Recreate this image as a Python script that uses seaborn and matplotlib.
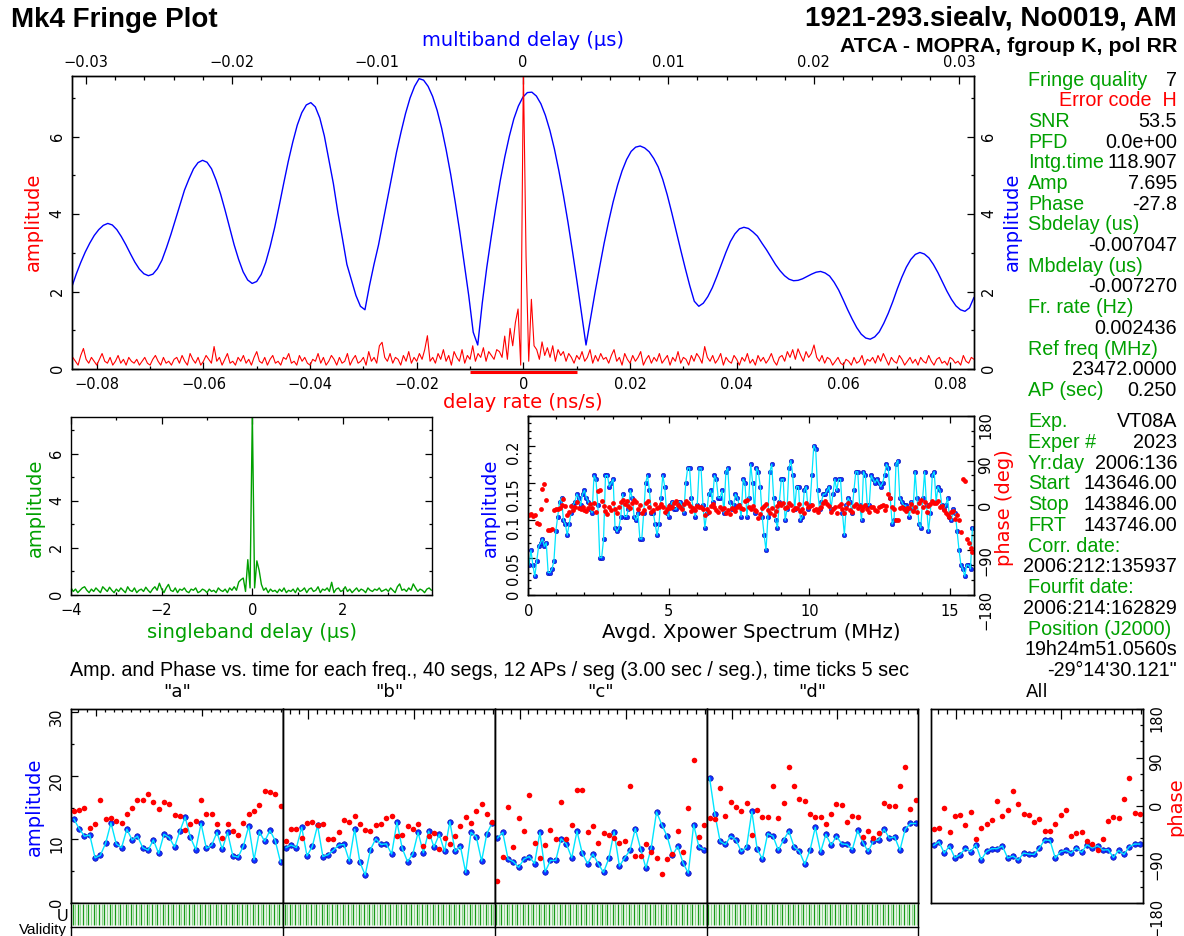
import numpy as np
import matplotlib
matplotlib.use("Agg")
import matplotlib.pyplot as plt
from matplotlib.ticker import MultipleLocator, FixedLocator, FuncFormatter
import seaborn as sns

W, H = 1184, 937

## header text
title_left = "Mk4 Fringe Plot"
title_right = "1921-293.siealv, No0019, AM"
title_base = "ATCA - MOPRA, fgroup K, pol RR"
seg_title = ("Amp. and Phase vs. time for each freq., 40 segs, 12 APs / seg "
             "(3.00 sec / seg.), time ticks 5 sec")

## fringe summary (label, value)
info_top = [("Fringe quality", "7"), ("", ""), ("SNR", "53.5"), ("PFD", "0.0e+00"),
            ("Intg.time", "118.907"), ("Amp", "7.695"), ("Phase", "-27.8"),
            ("Sbdelay (us)", ""), ("", "-0.007047"), ("Mbdelay (us)", ""), ("", "-0.007270"),
            ("Fr. rate (Hz)", ""), ("", "0.002436"), ("Ref freq (MHz)", ""), ("", "23472.0000"),
            ("AP (sec)", "0.250")]
error_code = "Error code  H"
info_bot = [("Exp.", "VT08A"), ("Exper #", "2023"), ("Yr:day", "2006:136"),
            ("Start", "143646.00"), ("Stop", "143846.00"), ("FRT", "143746.00"),
            ("Corr. date:", ""), ("", "2006:212:135937"), ("Fourfit date:", ""),
            ("", "2006:214:162829"), ("Position (J2000)", ""), ("", "19h24m51.0560s"),
            ("", "-29\u00b014'30.121\"")]

## multiband delay amplitude (top axis, us)
mbd_amp = [
    2.11, 2.45, 2.75, 3.02, 3.25, 3.45, 3.60, 3.71, 3.76, 3.72, 3.60, 3.42, 3.21, 2.98, 2.76, 2.58, 2.46, 2.41, 2.45, 2.59,
    2.81, 3.13, 3.48, 3.86, 4.24, 4.62, 4.91, 5.17, 5.33, 5.39, 5.34, 5.17, 4.88, 4.52, 4.10, 3.66, 3.21, 2.83, 2.51, 2.30,
    2.21, 2.26, 2.44, 2.75, 3.17, 3.66, 4.22, 4.80, 5.36, 5.86, 6.30, 6.62, 6.82, 6.88, 6.77, 6.48, 6.02, 5.41, 4.79, 4.04,
    3.38, 2.70, 2.30, 1.90, 1.62, 1.53, 2.15, 2.70, 3.20, 3.80, 4.40, 5.00, 5.60, 6.12, 6.60, 7.00, 7.30, 7.50, 7.46, 7.30,
    7.04, 6.68, 6.22, 5.66, 5.03, 4.32, 3.56, 2.74, 1.90, 0.95, 0.62, 1.70, 2.62, 3.42, 4.17, 4.87, 5.48, 6.01, 6.46, 6.79,
    7.02, 7.14, 7.15, 7.05, 6.85, 6.55, 6.16, 5.68, 5.11, 4.48, 3.79, 3.04, 2.26, 1.44, 0.62, 1.30, 1.98, 2.62, 3.24, 3.80,
    4.31, 4.75, 5.12, 5.41, 5.62, 5.73, 5.76, 5.71, 5.61, 5.44, 5.22, 4.90, 4.50, 4.04, 3.55, 3.07, 2.60, 2.15, 1.75, 1.62,
    1.70, 1.87, 2.10, 2.39, 2.70, 3.01, 3.29, 3.49, 3.62, 3.66, 3.63, 3.54, 3.43, 3.25, 3.08, 2.89, 2.70, 2.54, 2.41, 2.32,
    2.28, 2.29, 2.33, 2.39, 2.45, 2.50, 2.52, 2.48, 2.40, 2.24, 2.04, 1.79, 1.53, 1.29, 1.07, 0.90, 0.80, 0.77, 0.83, 0.96,
    1.18, 1.44, 1.74, 2.07, 2.37, 2.63, 2.83, 2.96, 3.01, 2.97, 2.87, 2.70, 2.49, 2.25, 2.01, 1.80, 1.63, 1.53, 1.49, 1.58,
    1.85]
mbd_range = (-0.0310, 0.0310)

## delay rate amplitude (bottom axis, ns/s)
rate_amp = [
    0.30, 0.20, 0.10, 0.35, 0.53, 0.25, 0.15, 0.30, 0.20, 0.10, 0.25, 0.40, 0.20, 0.15, 0.30, 0.10, 0.20, 0.35, 0.15, 0.25,
    0.10, 0.30, 0.20, 0.15, 0.25, 0.10, 0.20, 0.30, 0.15, 0.10, 0.25, 0.35, 0.20, 0.10, 0.30, 0.15, 0.20, 0.10, 0.25, 0.30,
    0.15, 0.35, 0.20, 0.10, 0.40, 0.25, 0.15, 0.30, 0.10, 0.20, 0.35, 0.25, 0.15, 0.58, 0.20, 0.30, 0.10, 0.25, 0.40, 0.15,
    0.20, 0.10, 0.30, 0.20, 0.35, 0.15, 0.25, 0.10, 0.30, 0.45, 0.20, 0.15, 0.30, 0.10, 0.25, 0.35, 0.15, 0.20, 0.10, 0.30,
    0.25, 0.40, 0.15, 0.20, 0.10, 0.35, 0.20, 0.30, 0.15, 0.10, 0.25, 0.20, 0.40, 0.15, 0.30, 0.10, 0.20, 0.35, 0.25, 0.10,
    0.30, 0.15, 0.20, 0.40, 0.10, 0.25, 0.35, 0.15, 0.20, 0.30, 0.10, 0.45, 0.20, 0.30, 0.15, 0.60, 0.69, 0.30, 0.20, 0.40,
    0.15, 0.30, 0.25, 0.10, 0.35, 0.20, 0.45, 0.15, 0.30, 0.20, 0.40, 0.25, 0.50, 0.86, 0.20, 0.30, 0.15, 0.40, 0.25, 0.50,
    0.20, 0.35, 0.10, 0.45, 0.30, 0.20, 0.50, 0.15, 0.35, 0.25, 0.60, 0.20, 0.40, 0.30, 0.55, 0.20, 0.45, 0.35, 0.25, 0.50,
    0.45, 0.30, 0.85, 0.25, 1.05, 0.60, 1.20, 1.55, 0.10, 7.70, 2.90, 0.20, 1.80, 0.60, 0.50, 0.25, 0.70, 0.35, 0.55, 0.30,
    0.60, 0.20, 0.50, 0.35, 0.45, 0.20, 0.40, 0.30, 0.15, 0.35, 0.25, 0.45, 0.20, 0.30, 0.50, 0.15, 0.35, 0.20, 0.40, 0.25,
    0.30, 0.15, 0.35, 0.50, 0.20, 0.30, 0.10, 0.40, 0.25, 0.15, 0.35, 0.20, 0.30, 0.45, 0.10, 0.25, 0.35, 0.15, 0.30, 0.20,
    0.40, 0.15, 0.25, 0.35, 0.10, 0.30, 0.20, 0.45, 0.15, 0.30, 0.25, 0.10, 0.35, 0.20, 0.40, 0.30, 0.15, 0.58, 0.30, 0.20,
    0.35, 0.15, 0.25, 0.40, 0.10, 0.30, 0.20, 0.15, 0.35, 0.25, 0.10, 0.30, 0.20, 0.40, 0.15, 0.25, 0.10, 0.35, 0.20, 0.30,
    0.15, 0.25, 0.40, 0.20, 0.10, 0.30, 0.35, 0.20, 0.45, 0.30, 0.50, 0.25, 0.52, 0.35, 0.20, 0.45, 0.30, 0.40, 0.62, 0.30,
    0.20, 0.35, 0.15, 0.30, 0.25, 0.10, 0.20, 0.30, 0.15, 0.10, 0.25, 0.20, 0.10, 0.30, 0.15, 0.20, 0.35, 0.10, 0.25, 0.20,
    0.30, 0.15, 0.35, 0.20, 0.40, 0.25, 0.10, 0.30, 0.20, 0.15, 0.35, 0.25, 0.10, 0.20, 0.30, 0.15, 0.25, 0.10, 0.30, 0.20,
    0.15, 0.35, 0.20, 0.10, 0.25, 0.30, 0.15, 0.20, 0.10, 0.30, 0.25, 0.15, 0.20, 0.10, 0.35, 0.20, 0.15, 0.30, 0.25]
rate_range = (-0.0845, 0.0845)
rate_window = [-0.01, 0.01]

## singleband delay amplitude (us)
sbd_amp = [
    0.30, 0.15, 0.25, 0.10, 0.20, 0.30, 0.35, 0.20, 0.10, 0.25, 0.15, 0.30, 0.20, 0.10, 0.35, 0.25, 0.15, 0.33, 0.20, 0.10,
    0.25, 0.15, 0.30, 0.20, 0.10, 0.35, 0.20, 0.15, 0.30, 0.10, 0.20, 0.25, 0.15, 0.33, 0.20, 0.10, 0.25, 0.35, 0.20, 0.50,
    0.25, 0.10, 0.30, 0.45, 0.20, 0.15, 0.30, 0.10, 0.25, 0.20, 0.30, 0.15, 0.10, 0.25, 0.20, 0.30, 0.10, 0.15, 0.25, 0.20,
    0.10, 0.25, 0.15, 0.20, 0.10, 0.30, 0.20, 0.15, 0.25, 0.10, 0.30, 0.20, 0.35, 0.20, 0.55, 0.65, 0.72, 0.15, 1.50, 0.30,
    7.70, 0.30, 1.45, 1.05, 0.45, 0.20, 0.30, 0.10, 0.25, 0.15, 0.20, 0.10, 0.25, 0.15, 0.30, 0.10, 0.20, 0.15, 0.25, 0.10,
    0.30, 0.15, 0.20, 0.30, 0.10, 0.25, 0.30, 0.15, 0.20, 0.35, 0.10, 0.25, 0.20, 0.30, 0.15, 0.54, 0.10, 0.25, 0.30, 0.15,
    0.20, 0.35, 0.15, 0.25, 0.10, 0.20, 0.30, 0.15, 0.25, 0.20, 0.10, 0.30, 0.20, 0.15, 0.25, 0.20, 0.30, 0.15, 0.20, 0.25,
    0.15, 0.30, 0.20, 0.10, 0.35, 0.47, 0.20, 0.25, 0.15, 0.30, 0.20, 0.47, 0.30, 0.15, 0.25, 0.20, 0.10, 0.25, 0.30, 0.20]
sbd_range = (-4.0, 3.95)

## averaged cross-power spectrum (MHz)
xp_amp = [
    0.040, 0.060, 0.040, 0.025, 0.045,
    0.065, 0.070, 0.075, 0.065, 0.070,
    0.030, 0.030, 0.035, 0.045,
    0.085, 0.105, 0.125, 0.130, 0.100, 0.095,
    0.080, 0.095, 0.110, 0.120, 0.125,
    0.135, 0.130, 0.120, 0.135, 0.140, 0.130, 0.125,
    0.115, 0.110, 0.160, 0.155, 0.120, 0.050,
    0.050, 0.075, 0.160, 0.160, 0.145, 0.150, 0.155, 0.090,
    0.085, 0.090, 0.105, 0.135, 0.105, 0.105, 0.115, 0.140,
    0.130, 0.105, 0.100, 0.110, 0.075, 0.075, 0.110,
    0.150, 0.160, 0.140, 0.110, 0.110, 0.095,
    0.080, 0.095, 0.130, 0.160, 0.145, 0.110, 0.105,
    0.120, 0.125, 0.115, 0.115, 0.125, 0.125, 0.120, 0.110,
    0.150, 0.170, 0.170, 0.130, 0.115, 0.105, 0.120,
    0.170, 0.170, 0.120, 0.090, 0.110, 0.135, 0.140,
    0.125, 0.160, 0.155, 0.130, 0.130, 0.140, 0.110,
    0.165, 0.170, 0.125, 0.115, 0.120, 0.135, 0.130, 0.120,
    0.105, 0.155, 0.150, 0.105, 0.130, 0.175, 0.150, 0.110,
    0.170, 0.165, 0.145, 0.105, 0.080, 0.060, 0.105,
    0.165, 0.175, 0.130, 0.100, 0.090, 0.125, 0.155,
    0.155, 0.100, 0.115, 0.170, 0.180, 0.160, 0.115,
    0.145, 0.145, 0.100, 0.105, 0.140, 0.145, 0.115, 0.120,
    0.160, 0.200, 0.195, 0.140, 0.115, 0.125, 0.135,
    0.135, 0.140, 0.145, 0.115, 0.135, 0.155, 0.140,
    0.155, 0.155, 0.110, 0.080, 0.120, 0.130, 0.125,
    0.110, 0.140, 0.165, 0.165, 0.120, 0.100, 0.165, 0.160,
    0.120, 0.120, 0.160, 0.155, 0.150, 0.155, 0.150,
    0.145, 0.150, 0.160, 0.175, 0.170, 0.130, 0.095, 0.100,
    0.175, 0.180, 0.130, 0.125, 0.120, 0.120, 0.115,
    0.105, 0.125, 0.115, 0.165, 0.130, 0.095, 0.090,
    0.130, 0.165, 0.120, 0.085, 0.110, 0.160, 0.165,
    0.125, 0.145, 0.140, 0.120, 0.115, 0.120, 0.130,
    0.105, 0.100, 0.115, 0.110, 0.085,
    0.060, 0.040, 0.035, 0.025, 0.040, 0.040, 0.035, 0.090]
xp_phase = [
    -20, -18, -21, -20, -35,
    -38, -8, 33, 43, 10,
    -50, -49, -48, -10,
    -7, -8, -6, 0, 12, -2,
    -20, -13, -1, -10, -4,
    7, -5, -8, -3, -9, -12, -6,
    2, -6, 5, -14, 28, 30,
    8, -2, -12, -18, -4, -10, 5, -8,
    -15, -3, 6, 10, 2, 8, -1, -6,
    4, 10, 6, -8, 0, -15, -10,
    5, 8, -4, -13, -10, 2,
    -6, -4, 3, -3, -14, -8, -2,
    -5, -3, 5, 8, 0, -3, -7, 2,
    8, 4, -2, -12, -6, -10, -1,
    -4, -3, -8, -20, -8, -13, -2,
    2, -4, -10, -13, -4, -7, -5,
    -15, -10, -18, -5, -8, -12, -3, 0,
    -5, -8, 8, 11, -3, -7, -1, -9,
    -12, -25, -18, -5, -2, 2, -10,
    -15, -6, -20, -11, -2, 4, 1,
    4, -5, -3, 5, 1, -9, -6,
    -5, 2, -12, -7, -16, 4, -3, -1,
    1, -10, -7, -14, -6, -3, 4,
    8, 3, -2, -13, -7, -3, -16,
    -2, 2, -8, -15, -5, 5, -9,
    -13, -2, 3, -6, -1, -9, -4, 0,
    -8, -14, -4, -3, -9, -12, -4,
    -2, 1, -10, -2, 23, 14, -4, -8,
    -30, -29, -5, -4, -8, -12, -6,
    -6, 3, -12, -4, -14, 5, 10,
    -4, 6, -13, -2, 2, 8, 4,
    4, 8, -3, -2, -9, -15, -19,
    -23, -13, -11, -28, -20,
    -30, -53, 53, 49, -67, -75, -85, -93]
xp_range = (0.03, 15.80)

## amplitude / phase per segment, channels a-d and All
chan_names = ['"a"', '"b"', '"c"', '"d"', "All"]
amp_a = [13.2, 11.7, 10.5, 10.7, 7.1, 7.5, 9.4, 12.6, 9.3, 8.7, 11.6, 9.9, 10.5, 8.7, 8.3, 9.9, 7.8, 10.8, 10.3, 8.8,
         11.3, 13.5, 10.3, 8.4, 12.5, 8.6, 9.1, 11.1, 8.5, 11.1, 7.4, 7.2, 9.0, 12.1, 6.8, 11.2, 9.7, 11.4, 9.8, 6.4]
ph_a = [-9, -7, -3, -40, -34, 12, -25, -22, -27, -32, -15, -4, 11, 12, 22, 8, -5, 7, 4, -17,
        -18, -45, -33, -28, 11, -15, -14, -33, -60, -33, -46, -54, -31, -15, -10, 2, 28, 26, 22, 0]
amp_b = [8.7, 9.1, 8.7, 11.9, 7.4, 8.9, 12.2, 7.3, 7.6, 8.3, 9.1, 9.2, 6.6, 11.6, 6.4, 4.4, 8.4, 10.1, 9.2, 9.3,
         7.7, 12.7, 8.6, 6.5, 7.7, 11.1, 7.9, 11.3, 8.8, 10.8, 8.1, 12.8, 8.1, 8.9, 4.8, 11.1, 10.4, 6.6, 10.9, 12.6]
ph_b = [-65, -43, -42, -59, -31, -29, -36, -34, -61, -61, -49, -26, -30, -19, -34, -45, -46, -35, -34, -23,
        -18, -56, -54, -38, -42, -33, -74, -56, -51, -79, -59, -71, -56, -37, -20, -31, -10, 3, -14, -30]
amp_c = [10.2, 11.1, 6.9, 6.5, 5.6, 6.9, 7.3, 6.2, 11.1, 4.9, 6.7, 6.7, 10.1, 9.3, 7.1, 11.3, 7.8, 6.2, 7.7, 6.2,
         4.8, 7.0, 11.2, 5.8, 7.1, 8.3, 11.7, 8.5, 5.5, 8.7, 14.3, 12.3, 10.5, 7.5, 8.9, 6.3, 4.7, 12.3, 8.8, 8.4]
ph_c = [-139, -94, -2, -76, -22, -47, 21, -69, -96, -72, -45, -61, 8, -61, -36, 29, 30, -48, -37, -68,
        -51, -54, -60, -68, -65, 37, -92, -92, -71, -86, -97, -127, -99, -89, -46, -86, -3, 86, -58, -35]
amp_d = [19.7, 14.0, 9.7, 9.2, 10.5, 9.9, 8.1, 8.8, 14.4, 8.5, 6.9, 10.9, 10.5, 8.3, 9.9, 11.3, 8.8, 8.1, 6.1, 8.3,
         11.9, 8.0, 10.8, 9.1, 10.5, 9.3, 9.2, 8.4, 11.4, 9.5, 8.1, 9.8, 9.9, 11.6, 10.2, 10.4, 8.3, 11.6, 12.5, 12.5]
ph_d = [-22, -25, 34, -18, 8, -1, -10, 5, -53, -8, -20, -20, 37, -22, 6, 72, 38, 13, 10, -15,
        -20, -21, -33, -14, 3, 2, -30, -18, -21, -58, -47, -59, -51, 5, 0, 0, 37, 73, -5, 11]
amp_all = [9.06, 9.64, 7.85, 8.96, 7.11, 7.59, 8.59, 8.06, 9.17, 6.80, 8.11, 8.54, 8.54, 8.96, 7.06, 7.38, 6.74, 7.85, 7.69, 7.64,
           8.64, 9.91, 9.85, 7.06, 8.06, 8.27, 7.85, 8.69, 7.96, 9.17, 8.64, 9.01, 8.32, 8.38, 7.17, 8.27, 7.64, 8.85, 9.27, 9.27]
ph_all = [-43, -40, -3, -48, -18, -17, -35, -12, -61, -41, -33, -26, 10, -18, -8, 27, 4, -15, -17, -29,
          -25, -47, -47, -34, -17, -7, -56, -50, -48, -65, -70, -82, -62, -28, -20, -22, 13, 52, -13, -15]
seg_len = 3.0   # sec per segment
n_seg = 40

sns.set_theme(style="ticks", rc={"axes.edgecolor": "black", "axes.linewidth": 1.0,
                                 "xtick.color": "black", "ytick.color": "black",
                                 "text.color": "black", "axes.labelcolor": "black",
                                 "xtick.direction": "in", "ytick.direction": "in"})
plt.rcParams["font.family"] = ["DejaVu Sans"]

RED, BLUE, GREEN, CYAN = "#ff0000", "#0000ff", "#00a000", "#00e5ff"
HELV = "Liberation Sans"

fig = plt.figure(figsize=(W / 100, H / 100), dpi=100)


def box(x0, y0, x1, y1):
    return fig.add_axes([x0 / W, 1 - y1 / H, (x1 - x0) / W, (y1 - y0) / H])


def put(x, y, s, **kw):
    kw.setdefault("ha", "center")
    kw.setdefault("va", "center")
    fig.text(x / W, 1 - y / H, s, **kw)


def num(v, pos=None):
    if abs(v) < 1e-9:
        return "0"
    return f"{v:.6g}".replace("-", "\u2212")


fmt = FuncFormatter(num)


def tick_len(ax, major=5, minor=2.5):
    ax.tick_params(which="major", length=major, width=0.9)
    ax.tick_params(which="minor", length=minor, width=0.9)


# ---------------- top: delay rate + multiband delay ----------------
ax_r = box(71.7, 77.3, 974, 370)
ax_m = ax_r.twiny()
mbd_x = np.linspace(*mbd_range, len(mbd_amp))
rate_x = np.linspace(*rate_range, len(rate_amp))
sns.lineplot(x=mbd_x, y=mbd_amp, ax=ax_m, color=BLUE, linewidth=1.0, estimator=None, sort=False)
sns.lineplot(x=rate_x, y=rate_amp, ax=ax_r, color=RED, linewidth=0.8, estimator=None, sort=False)
ax_r.set_zorder(ax_m.get_zorder() + 1)
ax_r.patch.set_visible(False)
ax_r.plot(rate_window, [-0.085, -0.085], color=RED, lw=2.2, clip_on=False, solid_capstyle="butt")
ax_r.set_xlim(-0.0847, 0.0845)
ax_m.set_xlim(-0.0310, 0.0310)
ax_r.set_ylim(0, 7.56)
ax_r.xaxis.set_major_locator(MultipleLocator(0.02))
ax_r.xaxis.set_minor_locator(MultipleLocator(0.01))
ax_m.xaxis.set_major_locator(MultipleLocator(0.01))
ax_m.xaxis.set_minor_locator(MultipleLocator(0.002))
ax_r.yaxis.set_major_locator(MultipleLocator(2))
ax_r.yaxis.set_minor_locator(MultipleLocator(1))
for a in (ax_r.xaxis, ax_r.yaxis, ax_m.xaxis):
    a.set_major_formatter(fmt)
ax_r.tick_params(axis="x", which="both", bottom=True, top=False, labelsize=10.5, pad=5)
ax_r.tick_params(axis="y", which="both", left=True, right=True, labelleft=True, labelright=True,
                 labelrotation=90, labelsize=10.5, pad=5)
ax_m.tick_params(axis="x", which="both", top=True, labeltop=True, bottom=False, labelbottom=False,
                 labelsize=10.5, pad=5)
tick_len(ax_r)
tick_len(ax_m, 6, 3)
for a in (ax_r, ax_m):
    a.set_xlabel("")
    a.set_ylabel("")
put(523, 40, "multiband delay (\u03bcs)", color=BLUE, fontsize=14)
put(523, 402, "delay rate (ns/s)", color=RED, fontsize=14)
put(33, 222, "amplitude", color=RED, fontsize=14, rotation=90)
put(1012, 222, "amplitude", color=BLUE, fontsize=14, rotation=90)

# ---------------- middle left: singleband delay ----------------
ax_s = box(71, 417.7, 432.3, 596)
sbd_x = np.linspace(*sbd_range, len(sbd_amp))
sns.lineplot(x=sbd_x, y=sbd_amp, ax=ax_s, color=GREEN, linewidth=1.0, estimator=None, sort=False)
ax_s.set_xlim(-4.0, 3.97)
ax_s.set_ylim(0, 7.57)
ax_s.xaxis.set_major_locator(MultipleLocator(2))
ax_s.xaxis.set_minor_locator(MultipleLocator(1))
ax_s.yaxis.set_major_locator(MultipleLocator(2))
ax_s.yaxis.set_minor_locator(MultipleLocator(1))
ax_s.xaxis.set_major_formatter(fmt)
ax_s.yaxis.set_major_formatter(fmt)
ax_s.tick_params(axis="x", which="both", top=True, labelsize=10.5, pad=5)
ax_s.tick_params(axis="y", which="both", right=True, labelrotation=90, labelsize=10.5, pad=5)
tick_len(ax_s)
ax_s.set_xlabel("")
ax_s.set_ylabel("")
put(252, 633, "singleband delay (\u03bcs)", color=GREEN, fontsize=14)
put(35, 508, "amplitude", color=GREEN, fontsize=14, rotation=90)

# ---------------- middle right: cross-power spectrum ----------------
ax_x = box(528.2, 416.7, 974.1, 596)
ax_p = ax_x.twinx()
xp_f = np.linspace(*xp_range, len(xp_amp))
sns.lineplot(x=xp_f, y=xp_amp, ax=ax_x, color=CYAN, linewidth=0.9, estimator=None, sort=False)
sns.scatterplot(x=xp_f, y=xp_amp, ax=ax_x, color="#1030ff", s=11, edgecolor="#0000a0", linewidth=0.3)
sns.scatterplot(x=xp_f, y=xp_phase, ax=ax_p, color=RED, s=12, linewidth=0)
ax_x.set_xlim(0, 15.86)
ax_x.set_ylim(0, 0.24)
ax_p.set_ylim(-180, 180)
ax_x.xaxis.set_major_locator(MultipleLocator(5))
ax_x.xaxis.set_minor_locator(MultipleLocator(1))
ax_x.yaxis.set_major_locator(MultipleLocator(0.05))
ax_x.yaxis.set_minor_locator(MultipleLocator(0.01))
ax_p.yaxis.set_major_locator(MultipleLocator(90))
ax_p.yaxis.set_minor_locator(MultipleLocator(30))
for a in (ax_x.xaxis, ax_x.yaxis, ax_p.yaxis):
    a.set_major_formatter(fmt)
ax_x.tick_params(axis="x", which="both", top=True, labelsize=10.5, pad=6)
ax_x.tick_params(axis="y", which="both", right=False, labelrotation=90, labelsize=10.5, pad=5)
ax_p.tick_params(axis="y", which="both", right=True, labelrotation=90, labelsize=10.5, pad=3)
tick_len(ax_x)
tick_len(ax_p)
for a in (ax_x, ax_p):
    a.set_xlabel("")
    a.set_ylabel("")
put(751, 633, "Avgd. Xpower Spectrum (MHz)", color="black", fontsize=14)
put(490, 508, "amplitude", color=BLUE, fontsize=14, rotation=90)
put(1005, 508, "phase (deg)", color=RED, fontsize=14, rotation=90)

# ---------------- bottom: amp/phase vs time ----------------
put(70, 671, seg_title, ha="left", fontfamily=HELV, fontsize=14.2)
seg_t = seg_len * (np.arange(n_seg) + 0.5)
edges = [71.2, 283.2, 494.8, 706.9, 918.4]
boxes = [(edges[k], edges[k + 1]) for k in range(4)] + [(931, 1142.5)]
amps = [amp_a, amp_b, amp_c, amp_d, amp_all]
phs = [ph_a, ph_b, ph_c, ph_d, ph_all]
t_end = seg_len * n_seg
for k, (x0, x1) in enumerate(boxes):
    ax = box(x0, 710, x1, 904)
    axp = ax.twinx()
    sns.lineplot(x=seg_t, y=amps[k], ax=ax, color=CYAN, linewidth=1.0, estimator=None, sort=False)
    sns.scatterplot(x=seg_t, y=amps[k], ax=ax, color="#1030ff", s=16, edgecolor="#0000a0", linewidth=0.4)
    sns.scatterplot(x=seg_t, y=phs[k], ax=axp, color=RED, s=16, linewidth=0)
    ax.set_xlim(0, t_end)
    ax.set_ylim(0, 30.5)
    axp.set_ylim(-180, 180)
    ax.xaxis.set_major_locator(FixedLocator([14, 74]))
    ax.xaxis.set_minor_locator(FixedLocator(np.arange(4, t_end, 5)))
    ax.tick_params(axis="x", which="both", bottom=False, top=True, labelbottom=False, labeltop=False)
    ax.tick_params(axis="x", which="major", length=7, width=0.9)
    ax.tick_params(axis="x", which="minor", length=3.5, width=0.9)
    if k == 0:
        ax.yaxis.set_major_locator(MultipleLocator(10))
        ax.yaxis.set_minor_locator(MultipleLocator(5))
        ax.yaxis.set_major_formatter(fmt)
        ax.tick_params(axis="y", which="both", left=True, labelrotation=90, labelsize=10.5, pad=5)
        tick_len(ax)
    else:
        ax.tick_params(axis="y", which="both", left=False, labelleft=False)
    if k == 4:
        axp.yaxis.set_major_locator(MultipleLocator(90))
        axp.yaxis.set_minor_locator(MultipleLocator(30))
        axp.yaxis.set_major_formatter(fmt)
        axp.tick_params(axis="y", which="both", right=True, labelrotation=90, labelsize=10.5, pad=5)
        tick_len(axp)
    else:
        axp.tick_params(axis="y", which="both", right=False, labelright=False)
    for a in (ax, axp):
        a.set_xlabel("")
        a.set_ylabel("")
    put((x0 + x1) / 2, 692, chan_names[k], fontsize=13)

    if k < 4:
        axv = box(x0, 904, x1, 928)
        vt = np.arange(0, t_end, seg_len / 2) + seg_len / 4
        axv.vlines(vt[0::2], 0.08, 0.95, color="#1a9a1a", lw=1.0)
        axv.vlines(vt[1::2], 0.08, 0.95, color="#8fd68f", lw=1.0)
        axv.set_xlim(0, t_end)
        axv.set_ylim(0, 1)
        axv.set_xticks([])
        axv.set_yticks([])
        axv.plot([0, 0], [0, -0.45], color="black", lw=1.0, clip_on=False)
        if k == 3:
            axv.plot([t_end, t_end], [0, -0.45], color="black", lw=1.0, clip_on=False)

put(34, 807, "amplitude", color=BLUE, fontsize=14, rotation=90)
put(1176, 807, "phase", color=RED, fontsize=14, rotation=90)
put(63, 916.5, "U", fontfamily=HELV, fontsize=11.5)
put(67, 930, "Validity", ha="right", fontfamily=HELV, fontsize=11)

# ---------------- header + summary text ----------------
put(11, 20, title_left, ha="left", fontfamily=HELV, fontweight="bold", fontsize=20)
put(1177, 19, title_right, ha="right", fontfamily=HELV, fontweight="bold", fontsize=20)
put(1177, 46, title_base, ha="right", fontfamily=HELV, fontweight="bold", fontsize=15.4)

for i, (lab, val) in enumerate(info_top):
    y = 80 + 20.7 * i
    if lab:
        put(1028, y, lab, ha="left", color=GREEN, fontfamily=HELV, fontsize=14.2)
    if val:
        put(1177, y, val, ha="right", color="black", fontfamily=HELV, fontsize=14.2)
put(1177, 80 + 20.7, error_code, ha="right", color=RED, fontfamily=HELV, fontsize=14.2)
for i, (lab, val) in enumerate(info_bot):
    y = 421.7 + 20.75 * i
    if lab:
        put(1028, y, lab, ha="left", color=GREEN, fontfamily=HELV, fontsize=14.2)
    if val:
        put(1177, y, val, ha="right", color="black", fontfamily=HELV, fontsize=14.2)

fig.savefig("out.png", dpi=100)
